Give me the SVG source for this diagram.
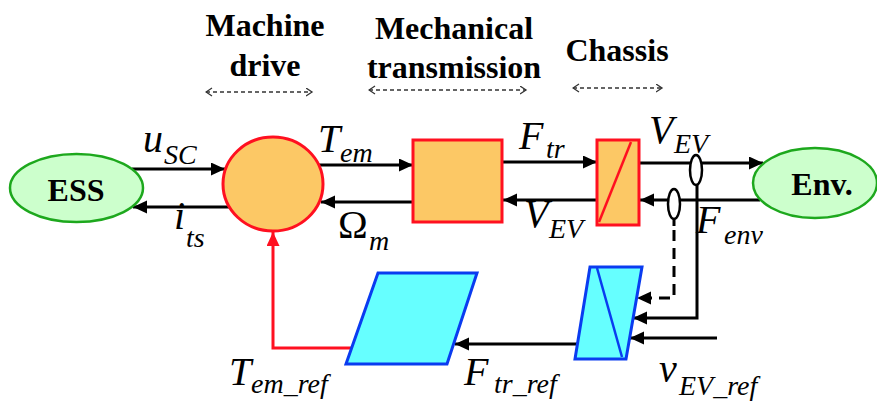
<svg xmlns="http://www.w3.org/2000/svg" width="877" height="406" viewBox="0 0 877 406" font-family="Liberation Serif, serif">
<style>
.hd{font-weight:bold;font-size:32px;fill:#000;text-anchor:middle}
.nm{font-weight:bold;font-size:32px;fill:#000;text-anchor:middle}
.sym{font-style:italic;font-size:40px;fill:#000}
.sub{font-size:28px}
.up{font-style:normal}
.ln{stroke:#000;stroke-width:3;fill:none}
.dash{stroke-dasharray:11 7}
.ha{stroke:#333;stroke-width:1.3;stroke-dasharray:4 3;fill:none}
.or{fill:#FCC865;stroke:#FF1020;stroke-width:3}
.gr{fill:#CCFFCC;stroke:#1DA81D;stroke-width:2.5}
.cy{fill:#66FFFF;stroke:#0A3CF0;stroke-width:3}
.ov{fill:#fff;stroke:#000;stroke-width:2.5}
</style>
<defs>
<marker id="ah" markerUnits="userSpaceOnUse" markerWidth="15" markerHeight="14" refX="14" refY="6.5" orient="auto">
<path d="M0,0 L14,6.5 L0,13 z" fill="#000"/>
</marker>
<marker id="ahr" markerUnits="userSpaceOnUse" markerWidth="15" markerHeight="14" refX="14" refY="6.5" orient="auto">
<path d="M0,0 L14,6.5 L0,13 z" fill="#FF1020"/>
</marker>
<marker id="ch" markerUnits="userSpaceOnUse" markerWidth="8" markerHeight="10" refX="6.5" refY="4.5" orient="auto-start-reverse">
<path d="M0.5,0.5 L6.5,4.5 L0.5,8.5" fill="none" stroke="#333" stroke-width="1.3"/>
</marker>
</defs>

<g id="headings" font-family="Liberation Serif, serif">
<text class="hd" x="265" y="36" font-family="Liberation Serif">Machine</text>
<text class="hd" x="265" y="76" font-family="Liberation Serif">drive</text>
<text class="hd" x="454" y="39" font-family="Liberation Serif">Mechanical</text>
<text class="hd" x="454" y="78" font-family="Liberation Serif">transmission</text>
<text class="hd" x="617" y="61" font-family="Liberation Serif">Chassis</text>
<line class="ha" x1="206" y1="92" x2="312" y2="92" marker-start="url(#ch)" marker-end="url(#ch)"/>
<line class="ha" x1="369" y1="90" x2="526" y2="90" marker-start="url(#ch)" marker-end="url(#ch)"/>
<line class="ha" x1="573" y1="88" x2="662" y2="88" marker-start="url(#ch)" marker-end="url(#ch)"/>
</g>

<g id="connectors">
<line class="ln" x1="132" y1="169" x2="225" y2="169" marker-end="url(#ah)"/>
<line class="ln" x1="229" y1="207" x2="133" y2="207" marker-end="url(#ah)"/>
<line class="ln" x1="319" y1="165" x2="413" y2="165" marker-end="url(#ah)"/>
<line class="ln" x1="413" y1="202" x2="321" y2="202" marker-end="url(#ah)"/>
<line class="ln" x1="502" y1="162" x2="597" y2="162" marker-end="url(#ah)"/>
<line class="ln" x1="597" y1="200" x2="503" y2="200" marker-end="url(#ah)"/>
<line class="ln" x1="639" y1="163" x2="763" y2="163" marker-end="url(#ah)"/>
<line class="ln" x1="760" y1="200" x2="640" y2="200" marker-end="url(#ah)"/>
<polyline class="ln" points="697,185 697,318 633,318" marker-end="url(#ah)"/>
<line class="ln" x1="674" y1="219" x2="674" y2="226"/>
<polyline class="ln dash" points="674,230 674,298 637,298" marker-end="url(#ah)"/>
<line class="ln" x1="717" y1="338" x2="630" y2="338" marker-end="url(#ah)"/>
<line class="ln" x1="577" y1="344" x2="455" y2="344" marker-end="url(#ah)"/>
<polyline points="351,348 273,348 273,232" fill="none" stroke="#FF1020" stroke-width="3" marker-end="url(#ahr)"/>
<ellipse class="ov" cx="696" cy="170" rx="6" ry="15"/>
<ellipse class="ov" cx="674" cy="204" rx="6" ry="15"/>
</g>

<g id="ess">
<ellipse class="gr" cx="76.5" cy="188" rx="66.5" ry="34"/>
<text class="nm" x="76" y="201" font-family="Liberation Serif">ESS</text>
</g>
<g id="env">
<ellipse class="gr" cx="815" cy="183" rx="62" ry="35"/>
<text class="nm" x="822" y="195" font-size="31" font-family="Liberation Serif">Env.</text>
</g>
<g id="machine-drive">
<ellipse class="or" cx="273" cy="184" rx="50" ry="47"/>
</g>
<g id="transmission">
<rect class="or" x="413" y="140" width="89" height="82"/>
</g>
<g id="chassis">
<rect class="or" x="597" y="140" width="42" height="85"/>
<line x1="599" y1="222" x2="631" y2="142" stroke="#FF1020" stroke-width="2.5"/>
</g>
<g id="chassis-ref">
<polygon class="cy" points="590,267 642,267 626,359 575,359"/>
<line x1="597" y1="268" x2="622" y2="357" stroke="#0A3CF0" stroke-width="2.5"/>
</g>
<g id="transmission-ref">
<polygon class="cy" points="378,273 477,273 447,364 346,364"/>
</g>

<g id="labels" font-family="Liberation Serif">
<text class="sym" x="143" y="152">u<tspan class="sub" x="164" y="164">SC</tspan></text>
<text class="sym" x="174" y="229">i<tspan class="sub" x="186" y="247">ts</tspan></text>
<text class="sym" x="318" y="152" font-size="42">T<tspan class="sub" x="340" y="162">em</tspan></text>
<text class="sym up" x="338" y="238" font-size="36">Ω<tspan class="sub" font-style="italic" x="369" y="250">m</tspan></text>
<text class="sym" x="519" y="149" font-size="41">F<tspan class="sub" x="546" y="158">tr</tspan></text>
<text class="sym" x="649" y="143">V<tspan class="sub" x="674" y="153">EV</tspan></text>
<text class="sym" x="524" y="227">V<tspan class="sub" x="549" y="238">EV</tspan></text>
<text class="sym" x="696" y="233" font-size="41">F<tspan class="sub" x="724" y="244">env</tspan></text>
<text class="sym" x="229" y="385" font-size="41">T<tspan class="sub" x="251" y="393">em_ref</tspan></text>
<text class="sym" x="464" y="385" font-size="41">F<tspan class="sub" x="494" y="393">tr_ref</tspan></text>
<text class="sym" x="659" y="382">v<tspan class="sub" x="679" y="395">EV_ref</tspan></text>
</g>
</svg>
